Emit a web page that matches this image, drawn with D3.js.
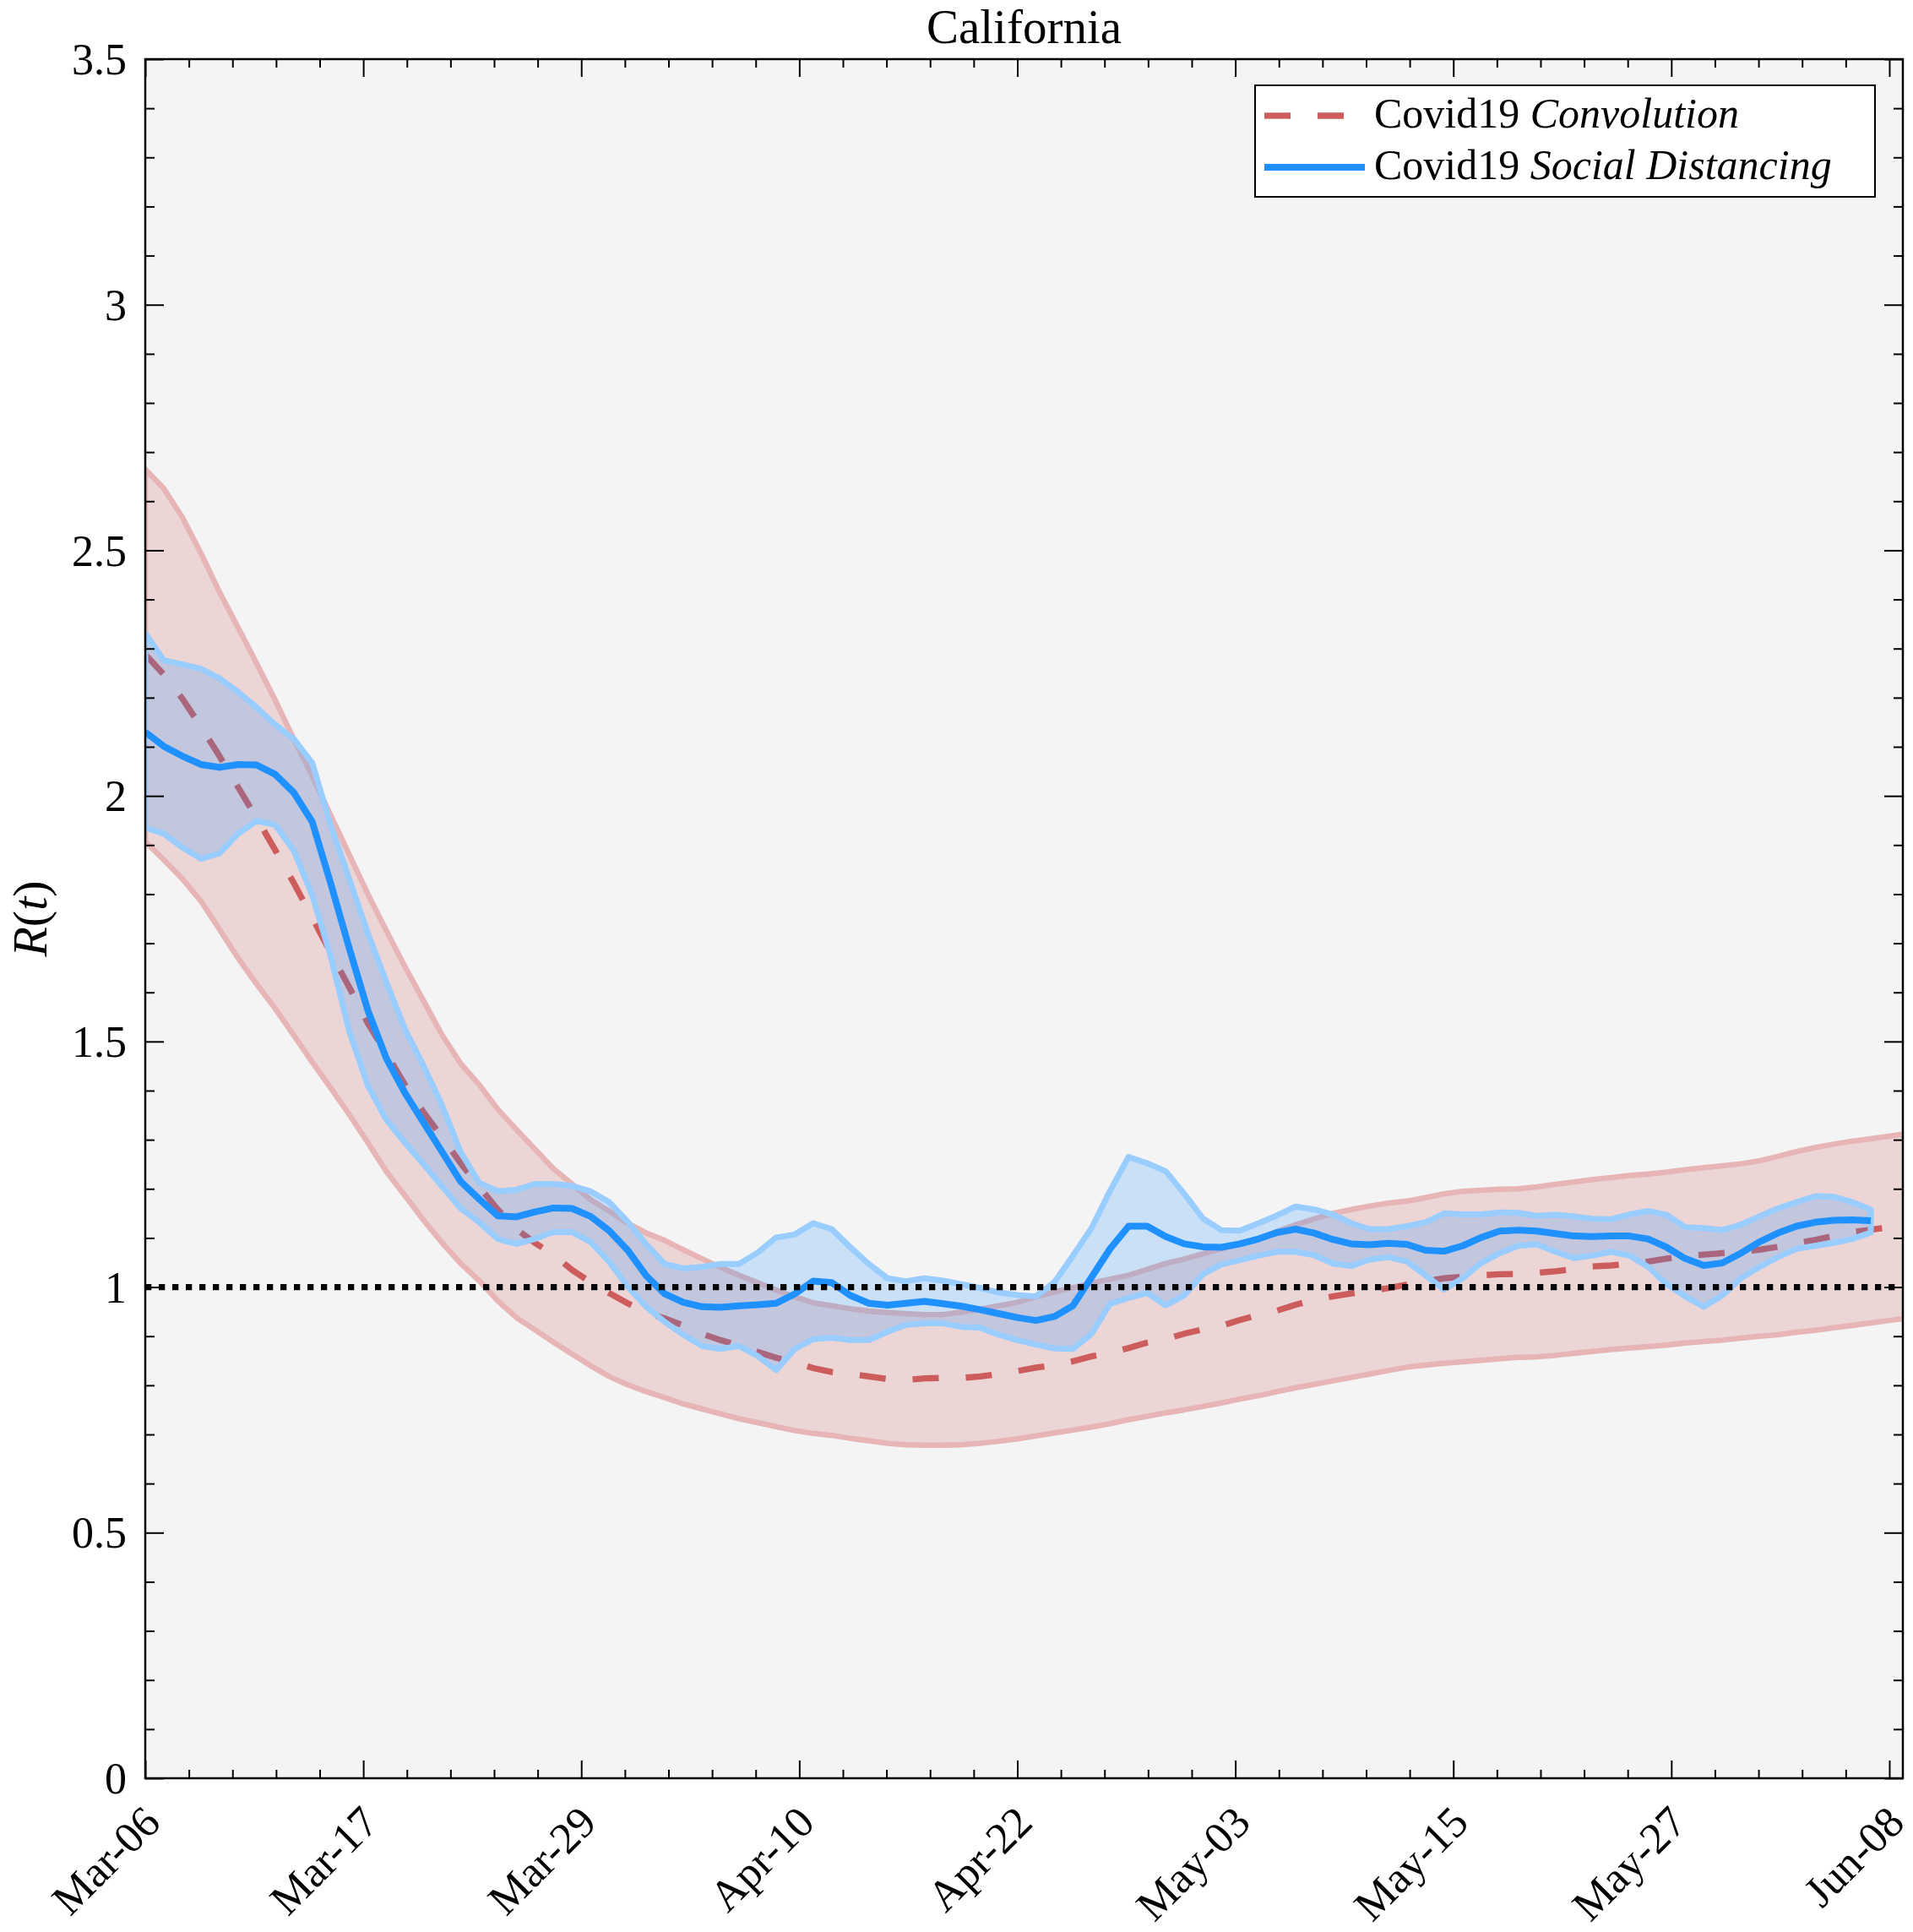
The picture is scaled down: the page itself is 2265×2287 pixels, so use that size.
<!DOCTYPE html>
<html>
<head>
<meta charset="utf-8">
<script src="https://cdn.jsdelivr.net/npm/d3@7"></script>
<style>
  body { margin: 0; background: #ffffff; }
  svg text { font-family: "Liberation Serif", "DejaVu Serif", serif; }
</style>
</head>
<body>
<div id="chart"></div>
<script>
// tick labels along the date axis (9 evenly spaced ticks between Mar-06 and Jun-08)
var xTickLabels = ["Mar-06", "Mar-17", "Mar-29", "Apr-10", "Apr-22", "May-03", "May-15", "May-27", "Jun-08"];
var yTickValues = [0, 0.5, 1, 1.5, 2, 2.5, 3, 3.5];

// Covid19 Convolution : one value per day from Mar-06
var convUpper = [2.665, 2.626, 2.567, 2.494, 2.415, 2.343, 2.270, 2.195, 2.116, 2.040,
  1.960, 1.880, 1.800, 1.725, 1.652, 1.583, 1.513, 1.455, 1.412, 1.362,
  1.321, 1.281, 1.241, 1.210, 1.178, 1.155, 1.130, 1.110, 1.095, 1.076,
  1.058, 1.040, 1.024, 1.009, 0.994, 0.980, 0.968, 0.962, 0.956, 0.951,
  0.948, 0.946, 0.944, 0.944, 0.949, 0.955, 0.962, 0.969, 0.980, 0.990,
  0.999, 1.008, 1.016, 1.024, 1.036, 1.048, 1.057, 1.068, 1.078, 1.088,
  1.098, 1.113, 1.127, 1.139, 1.150, 1.158, 1.165, 1.171, 1.175, 1.182,
  1.190, 1.195, 1.197, 1.199, 1.200, 1.204, 1.209, 1.214, 1.219, 1.223,
  1.227, 1.230, 1.234, 1.239, 1.243, 1.247, 1.251, 1.257, 1.266, 1.276,
  1.284, 1.291, 1.297, 1.302, 1.307, 1.313];
var convMean = [2.288, 2.247, 2.198, 2.141, 2.081, 2.018, 1.955, 1.890, 1.823, 1.752,
  1.680, 1.610, 1.537, 1.475, 1.412, 1.356, 1.305, 1.252, 1.204, 1.158,
  1.118, 1.090, 1.066, 1.035, 1.010, 0.988, 0.967, 0.948, 0.936, 0.922,
  0.905, 0.892, 0.881, 0.868, 0.856, 0.847, 0.835, 0.827, 0.823, 0.818,
  0.813, 0.811, 0.814, 0.815, 0.815, 0.818, 0.823, 0.829, 0.836, 0.841,
  0.849, 0.859, 0.866, 0.876, 0.887, 0.894, 0.905, 0.914, 0.921, 0.933,
  0.943, 0.952, 0.964, 0.974, 0.981, 0.987, 0.992, 0.998, 1.005, 1.012,
  1.018, 1.021, 1.024, 1.026, 1.027, 1.029, 1.032, 1.037, 1.042, 1.044,
  1.048, 1.052, 1.058, 1.063, 1.066, 1.069, 1.072, 1.076, 1.082, 1.089,
  1.096, 1.104, 1.112, 1.117, 1.122, 1.127];
var convLower = [1.907, 1.870, 1.831, 1.786, 1.728, 1.670, 1.617, 1.567, 1.513, 1.458,
  1.405, 1.351, 1.294, 1.235, 1.186, 1.136, 1.090, 1.048, 1.013, 0.972,
  0.938, 0.913, 0.888, 0.864, 0.840, 0.818, 0.801, 0.787, 0.775, 0.762,
  0.752, 0.742, 0.732, 0.724, 0.716, 0.708, 0.702, 0.698, 0.692, 0.687,
  0.682, 0.679, 0.678, 0.678, 0.679, 0.682, 0.686, 0.691, 0.697, 0.703,
  0.709, 0.715, 0.722, 0.730, 0.737, 0.744, 0.750, 0.757, 0.764, 0.772,
  0.779, 0.787, 0.795, 0.802, 0.809, 0.816, 0.823, 0.830, 0.837, 0.841,
  0.845, 0.848, 0.851, 0.854, 0.857, 0.858, 0.861, 0.865, 0.869, 0.873,
  0.876, 0.879, 0.882, 0.886, 0.889, 0.892, 0.896, 0.900, 0.903, 0.908,
  0.912, 0.917, 0.922, 0.927, 0.932, 0.937];

// Covid19 Social Distancing : one value per day from Mar-06
var sdUpper = [2.331, 2.276, 2.268, 2.259, 2.239, 2.212, 2.180, 2.145, 2.116, 2.067,
  1.940, 1.830, 1.720, 1.620, 1.525, 1.450, 1.370, 1.275, 1.212, 1.195,
  1.198, 1.210, 1.210, 1.206, 1.195, 1.173, 1.133, 1.087, 1.047, 1.038,
  1.041, 1.047, 1.047, 1.070, 1.101, 1.107, 1.130, 1.118, 1.081, 1.047,
  1.018, 1.012, 1.018, 1.013, 1.006, 0.998, 0.989, 0.984, 0.981, 1.010,
  1.064, 1.120, 1.196, 1.265, 1.252, 1.236, 1.190, 1.140, 1.116, 1.115,
  1.130, 1.146, 1.164, 1.158, 1.148, 1.130, 1.118, 1.118, 1.124, 1.132,
  1.150, 1.148, 1.148, 1.152, 1.151, 1.145, 1.147, 1.144, 1.139, 1.138,
  1.148, 1.155, 1.147, 1.122, 1.120, 1.116, 1.127, 1.144, 1.160, 1.173,
  1.185, 1.184, 1.173, 1.158];
var sdMean = [2.130, 2.101, 2.081, 2.064, 2.058, 2.064, 2.063, 2.044, 2.007, 1.947,
  1.821, 1.689, 1.563, 1.465, 1.395, 1.335, 1.275, 1.215, 1.179, 1.145,
  1.143, 1.153, 1.161, 1.160, 1.144, 1.115, 1.075, 1.023, 0.986, 0.969,
  0.960, 0.959, 0.962, 0.964, 0.967, 0.986, 1.012, 1.009, 0.983, 0.967,
  0.963, 0.967, 0.971, 0.966, 0.961, 0.954, 0.946, 0.938, 0.932, 0.940,
  0.962, 1.020, 1.078, 1.124, 1.124, 1.103, 1.088, 1.082, 1.081, 1.088,
  1.098, 1.111, 1.118, 1.110, 1.097, 1.088, 1.086, 1.089, 1.087, 1.075,
  1.073, 1.084, 1.101, 1.114, 1.116, 1.114, 1.109, 1.104, 1.103, 1.104,
  1.104, 1.098, 1.081, 1.058, 1.044, 1.049, 1.069, 1.092, 1.110, 1.124,
  1.132, 1.136, 1.137, 1.135];
var sdLower = [1.935, 1.923, 1.895, 1.872, 1.883, 1.923, 1.949, 1.941, 1.889, 1.798,
  1.672, 1.520, 1.410, 1.340, 1.294, 1.250, 1.205, 1.160, 1.132, 1.098,
  1.088, 1.098, 1.112, 1.112, 1.092, 1.052, 1.001, 0.960, 0.929, 0.903,
  0.880, 0.874, 0.880, 0.860, 0.831, 0.874, 0.894, 0.897, 0.892, 0.892,
  0.909, 0.923, 0.926, 0.926, 0.919, 0.917, 0.903, 0.892, 0.883, 0.875,
  0.874, 0.905, 0.966, 0.978, 0.988, 0.963, 0.983, 1.026, 1.046, 1.055,
  1.064, 1.072, 1.072, 1.065, 1.048, 1.043, 1.056, 1.061, 1.052, 1.024,
  0.995, 1.018, 1.049, 1.069, 1.084, 1.087, 1.072, 1.059, 1.064, 1.072,
  1.064, 1.041, 1.006, 0.981, 0.960, 0.983, 1.018, 1.041, 1.061, 1.078,
  1.084, 1.090, 1.098, 1.111];

var W = 2265, H = 2287;
var plotL = 172, plotR = 2253, plotT = 70, plotB = 2105;
var lastTickDay = 94;        // Mar-06 -> Jun-08

var x = d3.scaleLinear().domain([0, 94.73]).range([plotL, plotR]);
var y = d3.scaleLinear().domain([0, 3.5]).range([plotB, plotT]);

var svg = d3.select("#chart").append("svg")
    .attr("width", W)
    .attr("height", H);

svg.append("rect").attr("width", W).attr("height", H).attr("fill", "#ffffff");
svg.append("rect")
    .attr("x", plotL).attr("y", plotT)
    .attr("width", plotR - plotL).attr("height", plotB - plotT)
    .attr("fill", "#f4f4f4");

svg.append("clipPath").attr("id", "plotclip")
  .append("rect")
    .attr("x", plotL).attr("y", plotT)
    .attr("width", plotR - plotL).attr("height", plotB - plotT);

var conv = convMean.map(function(m, i) { return { day: i, hi: convUpper[i], mid: m, lo: convLower[i] }; });
var sd = sdMean.map(function(m, i) { return { day: i, hi: sdUpper[i], mid: m, lo: sdLower[i] }; });

var band = d3.area()
    .x(function(d) { return x(d.day); })
    .y0(function(d) { return y(d.lo); })
    .y1(function(d) { return y(d.hi); });
var midLine = d3.line()
    .x(function(d) { return x(d.day); })
    .y(function(d) { return y(d.mid); });

var plot = svg.append("g").attr("clip-path", "url(#plotclip)");

// convolution band + dashed estimate
plot.append("path")
    .attr("d", band(conv) + "Z")
    .attr("fill", "#cd5c5c")
    .attr("fill-opacity", 0.2)
    .attr("stroke", "#e7b5b5")
    .attr("stroke-width", 6.5)
    .attr("stroke-linejoin", "round");
plot.append("path")
    .attr("d", midLine(conv))
    .attr("fill", "none")
    .attr("stroke", "#cd5c5c")
    .attr("stroke-width", 7.3)
    .attr("stroke-dasharray", "31,32");

// social distancing band + estimate
plot.append("path")
    .attr("d", band(sd) + "Z")
    .attr("fill", "#1e90ff")
    .attr("fill-opacity", 0.2)
    .attr("stroke", "#99ccff")
    .attr("stroke-width", 7)
    .attr("stroke-linejoin", "round");
plot.append("path")
    .attr("d", midLine(sd))
    .attr("fill", "none")
    .attr("stroke", "#1e90ff")
    .attr("stroke-width", 8)
    .attr("stroke-linejoin", "round");

// R = 1 reference
plot.append("line")
    .attr("x1", x(0)).attr("x2", x(94.73))
    .attr("y1", y(1)).attr("y2", y(1))
    .attr("stroke", "#000000")
    .attr("stroke-width", 7.3)
    .attr("stroke-dasharray", "7.3,8.7");

// ---- axes ----
var xTickDays = xTickLabels.map(function(d, i) { return i * lastTickDay / (xTickLabels.length - 1); });
var xMinor = d3.range(41).filter(function(i) { return i % 5 != 0; }).map(function(i) { return i * lastTickDay / 40; });
var yMinor = d3.range(36).filter(function(i) { return i % 5 != 0; }).map(function(i) { return i / 10; });

function styleAxis(g) {
  g.attr("font-family", null).attr("font-size", null);
  g.select(".domain").remove();
  g.selectAll(".tick line").attr("stroke", "#000").attr("stroke-width", 2);
}

var xAxis = svg.append("g")
    .attr("transform", "translate(0," + plotB + ")")
    .call(d3.axisBottom(x).tickValues(xTickDays).tickSize(-21)
      .tickFormat(function(d, i) { return xTickLabels[i]; }))
    .call(styleAxis);
xAxis.selectAll("text")
    .attr("fill", "#000")
    .attr("font-size", 52)
    .attr("text-anchor", "end")
    .attr("x", 20).attr("y", 55).attr("dy", null)
    .attr("transform", "rotate(-45,20,55)");

svg.append("g").attr("transform", "translate(0," + plotB + ")")
    .call(d3.axisBottom(x).tickValues(xMinor).tickSize(-10).tickFormat(""))
    .call(styleAxis);
svg.append("g").attr("transform", "translate(0," + plotT + ")")
    .call(d3.axisTop(x).tickValues(xTickDays).tickSize(-21).tickFormat(""))
    .call(styleAxis);
svg.append("g").attr("transform", "translate(0," + plotT + ")")
    .call(d3.axisTop(x).tickValues(xMinor).tickSize(-10).tickFormat(""))
    .call(styleAxis);

var yAxis = svg.append("g")
    .attr("transform", "translate(" + plotL + ",0)")
    .call(d3.axisLeft(y).tickValues(yTickValues).tickSize(-22).tickPadding(22)
      .tickFormat(d3.format("~g")))
    .call(styleAxis);
yAxis.selectAll("text").attr("fill", "#000").attr("font-size", 52).attr("dy", "0.34em");

svg.append("g").attr("transform", "translate(" + plotL + ",0)")
    .call(d3.axisLeft(y).tickValues(yMinor).tickSize(-11).tickFormat(""))
    .call(styleAxis);
svg.append("g").attr("transform", "translate(" + plotR + ",0)")
    .call(d3.axisRight(y).tickValues(yTickValues).tickSize(-22).tickFormat(""))
    .call(styleAxis);
svg.append("g").attr("transform", "translate(" + plotR + ",0)")
    .call(d3.axisRight(y).tickValues(yMinor).tickSize(-11).tickFormat(""))
    .call(styleAxis);

// box
svg.append("rect")
    .attr("x", plotL).attr("y", plotT)
    .attr("width", plotR - plotL).attr("height", plotB - plotT)
    .attr("fill", "none")
    .attr("stroke", "#000")
    .attr("stroke-width", 2.5);

// title and y label
svg.append("text")
    .attr("x", (plotL + plotR) / 2).attr("y", 51)
    .attr("text-anchor", "middle")
    .attr("font-size", 57)
    .text("California");

var yl = svg.append("text")
    .attr("transform", "translate(55," + ((plotT + plotB) / 2) + ") rotate(-90)")
    .attr("text-anchor", "middle")
    .attr("font-size", 58);
yl.append("tspan").attr("font-style", "italic").text("R");
yl.append("tspan").text("(");
yl.append("tspan").attr("font-style", "italic").text("t");
yl.append("tspan").text(")");

// legend
var legend = svg.append("g");
legend.append("rect")
    .attr("x", 1486).attr("y", 101)
    .attr("width", 734).attr("height", 132)
    .attr("fill", "#ffffff")
    .attr("stroke", "#000")
    .attr("stroke-width", 2);
legend.append("line")
    .attr("x1", 1497).attr("x2", 1616).attr("y1", 137).attr("y2", 137)
    .attr("stroke", "#cd5c5c").attr("stroke-width", 7.3)
    .attr("stroke-dasharray", "31,32");
legend.append("line")
    .attr("x1", 1497).attr("x2", 1616).attr("y1", 198).attr("y2", 198)
    .attr("stroke", "#1e90ff").attr("stroke-width", 8);
var t1 = legend.append("text").attr("x", 1627).attr("y", 151).attr("font-size", 50);
t1.append("tspan").text("Covid19 ");
t1.append("tspan").attr("font-style", "italic").text("Convolution");
var t2 = legend.append("text").attr("x", 1627).attr("y", 212).attr("font-size", 50);
t2.append("tspan").text("Covid19 ");
t2.append("tspan").attr("font-style", "italic").text("Social Distancing");
</script>
</body>
</html>
